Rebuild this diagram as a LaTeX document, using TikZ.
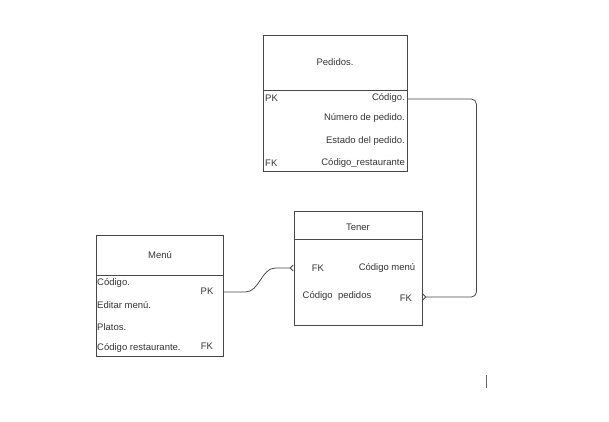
\documentclass[tikz,border=0pt]{standalone}
\usepackage{fontspec}
\setmainfont{Liberation Sans}
\usetikzlibrary{arrows.meta}

\begin{document}
\begin{tikzpicture}[x=1pt,y=-1pt,draw=black!72,text=black!80,font=\fontsize{9.5}{11}\selectfont]
    \tikzstyle{entity}=[draw,thick,inner sep=0pt]
    \tikzstyle{field}=[inner sep=0pt]
    \tikzstyle{rel}=[draw=black!72,thick,-{Straight Barb[reversed,length=3pt,width=6pt]}]

    \useasboundingbox (0,0) rectangle (609,422);

    % Entities
    \node[entity, minimum width=144pt, minimum height=136pt] (P) at (335,103) {};
    \node[entity, minimum width=127pt, minimum height=121pt] (M) at (159.5,295.5) {};
    \node[entity, minimum width=128pt, minimum height=114pt] (T) at (358,268) {};

    \draw[thick] (P.west |- 0,90) -- (P.east |- 0,90);
    \draw[thick] (M.west |- 0,275) -- (M.east |- 0,275);
    \draw[thick] (T.west |- 0,239) -- (T.east |- 0,239);

    \node[field] (P-title) at (335,62) {Pedidos.};
    \node[field] (M-title) at (160,255) {Menú};
    \node[field] (T-title) at (358,227) {Tener};

    % Pedidos fields
    \node[field, anchor=east] (P-1) at (405,98) {Código.};
    \node[field, anchor=east] (P-2) at (405,118) {Número de pedido.};
    \node[field, anchor=east] (P-3) at (405,141) {Estado del pedido.};
    \node[field, anchor=east] (P-4) at (405,163) {Código\_restaurante};
    \node[field, anchor=west] (P-pk) at (265,98) {PK};
    \node[field, anchor=west] (P-fk) at (265,163) {FK};

    % Menu fields
    \node[field, anchor=west] (M-1) at (97,283) {Código.};
    \node[field, anchor=west] (M-2) at (97,305) {Editar menú.};
    \node[field, anchor=west] (M-3) at (97,327) {Platos.};
    \node[field, anchor=west] (M-4) at (97,348) {Código restaurante.};
    \node[field] (M-pk) at (207,291) {PK};
    \node[field] (M-fk) at (207,346) {FK};

    % Tener fields
    \node[field] (T-fk1) at (318,268) {FK};
    \node[field] (T-1) at (387,268) {Código menú};
    \node[field] (T-2) at (337,296) {Código\ \ pedidos};
    \node[field] (T-fk2) at (406,298) {FK};

    % Relations
    \coordinate (M-out) at (M.east |- 0,292);
    \coordinate (T-in1) at (T.west |- 0,268);
    \coordinate (P-out) at (P.east |- 0,99);
    \coordinate (T-in2) at (T.east |- 0,297);

    \path[rel] (M-out) -- ++(22,0) .. controls +(14,0) and +(-14,0) .. ++(30,-24) -- (T-in1);
    \path[rel, rounded corners=5pt] (P-out) -- ++(69,0) |- (T-in2);

    \draw[black!60] (486,375) -- ++(0,13);
\end{tikzpicture}
\end{document}
